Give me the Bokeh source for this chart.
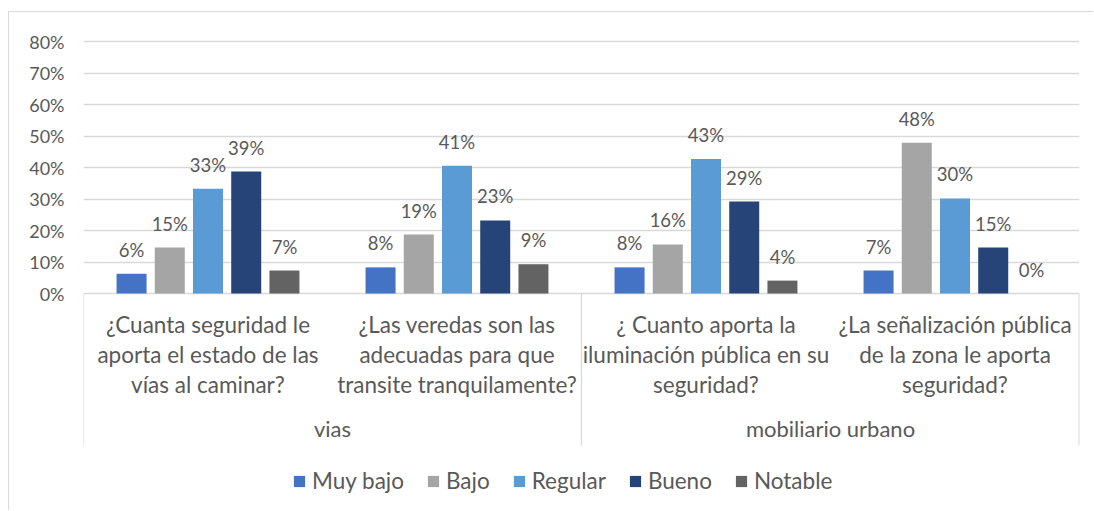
from bokeh.plotting import figure
from bokeh.models import (FactorRange, Range1d, FixedTicker, NumeralTickFormatter,
                          ColumnDataSource, Legend, LegendItem)
from bokeh.transform import dodge
from bokeh.core.properties import value
from bokeh.embed import file_html
from bokeh.resources import INLINE

# ---- data ----
groups = ["vias", "vias", "mobiliario urbano", "mobiliario urbano"]
questions = [
    "¿Cuanta seguridad le\naporta el estado de las\nvías al caminar?",
    "¿Las veredas son las\nadecuadas para que\ntransite tranquilamente?",
    "¿ Cuanto aporta la\niluminación pública en su\nseguridad?",
    "¿La señalización pública\nde la zona le aporta\nseguridad?",
]
series = ["Muy bajo", "Bajo", "Regular", "Bueno", "Notable"]
muy_bajo = [6.3, 8.3, 8.3, 7.3]
bajo = [14.6, 18.7, 15.6, 47.9]
regular = [33.3, 40.6, 42.7, 30.2]
bueno = [38.7, 23.2, 29.2, 14.6]
notable = [7.3, 9.3, 4.1, 0.0]
y_ticks = [0, 0.1, 0.2, 0.3, 0.4, 0.5, 0.6, 0.7, 0.8]

values = [muy_bajo, bajo, regular, bueno, notable]
colors = ["#4472C4", "#A5A5A5", "#5B9BD5", "#264478", "#636363"]
offsets = [-0.307, -0.1535, 0.0, 0.1535, 0.307]
TXT = "#595959"
FONT = "Lato"

factors = list(zip(groups, questions))

p = figure(x_range=FactorRange(factors=factors, range_padding=0, group_padding=0,
                               factor_padding=0, subgroup_padding=0),
           y_range=Range1d(-0.692, 0.835),
           width=1085, height=499, output_backend="svg", toolbar_location=None,
           x_axis_location=None, min_border_left=74, min_border_right=15,
           min_border_top=18, min_border_bottom=0)
p.margin = (11, 0, 0, 8)
p.styles = {"border-top": "1px solid #D9D9D9", "border-left": "1px solid #D9D9D9"}
p.outline_line_color = None
p.xgrid.visible = False
p.ygrid.grid_line_color = "#D9D9D9"
p.ygrid.grid_line_width = 1.3

ax = p.yaxis[0]
ax.ticker = FixedTicker(ticks=y_ticks)
ax.formatter = NumeralTickFormatter(format="0%")
ax.axis_line_color = None
ax.major_tick_line_color = None
ax.minor_tick_line_color = None
ax.major_tick_out = 0
ax.major_label_standoff = 19
ax.major_label_text_font = FONT
ax.major_label_text_font_size = "18px"
ax.major_label_text_color = TXT

items = []
for name, vals, col, off in zip(series, values, colors, offsets):
    src = ColumnDataSource(dict(x=factors, top=[v / 100 for v in vals],
                                lab=[f"{round(v)}%" for v in vals]))
    r = p.vbar(x=dodge("x", off, range=p.x_range), top="top", width=0.1205,
               bottom=0, source=src, fill_color=col, line_color=None)
    p.text(x=dodge("x", off, range=p.x_range), y="top", text="lab", source=src,
           text_align="center", text_baseline="alphabetic", y_offset=-24,
           text_font=value(FONT), text_font_size="18.5px", text_color=TXT)
    items.append(LegendItem(label=name, renderers=[r]))

# category labels
qsrc = ColumnDataSource(dict(x=factors, t=questions, y=[-0.1937] * 4))
p.text(x="x", y="y", text="t", source=qsrc, text_align="center",
       text_baseline="middle", text_line_height=1.1,
       text_font=value(FONT), text_font_size="22.5px", text_color=TXT)

# group labels (centered on each group)
gsrc = ColumnDataSource(dict(x=[factors[0], factors[2]], t=["vias", "mobiliario urbano"],
                             y=[-0.4286, -0.4286]))
p.text(x=dodge("x", 0.5, range=p.x_range), y="y", text="t", source=gsrc,
       text_align="center", text_baseline="middle",
       text_font=value(FONT), text_font_size="22px", text_color=TXT)

# separators
lsrc = ColumnDataSource(dict(x=[factors[0], factors[2]], y0=[0, 0], y1=[-0.4825, -0.4825]))
p.segment(x0=dodge("x", -0.5, range=p.x_range), x1=dodge("x", -0.5, range=p.x_range),
          y0="y0", y1="y1", source=lsrc, line_color="#D9D9D9", line_width=1.3)
rsrc = ColumnDataSource(dict(x=[factors[3]], y0=[0], y1=[-0.4825]))
p.segment(x0=dodge("x", 0.5, range=p.x_range), x1=dodge("x", 0.5, range=p.x_range),
          y0="y0", y1="y1", source=rsrc, line_color="#D9D9D9", line_width=2)

legend = Legend(items=items, location=(209, 17), orientation="horizontal",
                glyph_width=14, glyph_height=14, label_standoff=6, spacing=22,
                padding=0, margin=0, border_line_color=None, background_fill_alpha=0,
                label_text_font=FONT, label_text_font_size="22.5px",
                label_text_color=TXT, label_height=22)
p.add_layout(legend)

open("out.html", "w").write(file_html(p, INLINE))
